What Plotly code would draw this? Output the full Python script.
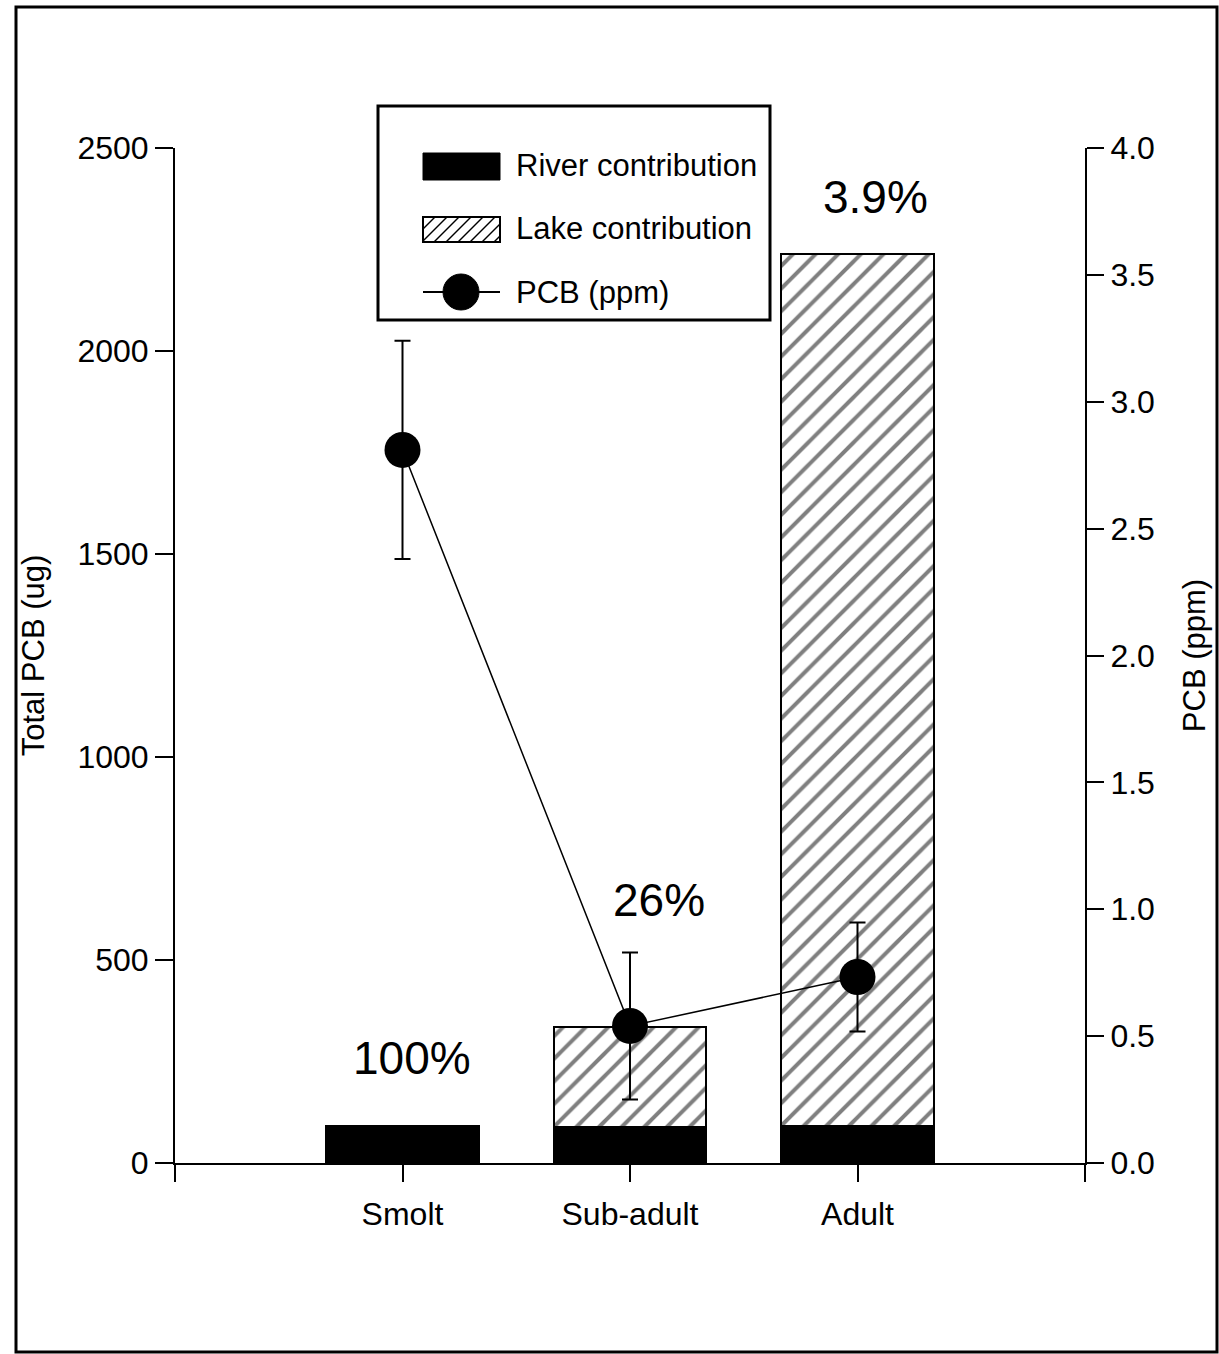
import plotly.graph_objects as go

categories = ["Smolt", "Sub-adult", "Adult"]
river_ug = [90, 89, 90]
lake_ug = [0, 246, 2149]
pcb_ppm = [2.81, 0.54, 0.733]
pcb_err = [0.43, 0.29, 0.215]
pct_labels = ["100%", "26%", "3.9%"]
pct_label_y = [259, 648, 2379]
pct_label_dx = [0.04, 0.127, 0.077]
legend_names = ["River contribution", "Lake contribution", "PCB (ppm)"]

xpos = list(range(1, len(categories) + 1))

W, H = 1219, 1354
L, R, T, B = 175, 134, 148, 191
pw, ph = W - L - R, H - T - B
FONT = "Liberation Sans, Arial"


def px(x):
    return (x - L) / pw


def py(y):
    return (H - B - y) / ph


fig = go.Figure()
fig.add_trace(go.Bar(
    x=xpos, y=river_ug, name=legend_names[0], width=0.67,
    marker=dict(color="black", line=dict(color="black", width=2)),
))
fig.add_trace(go.Bar(
    x=xpos, y=lake_ug, name=legend_names[1], width=0.67,
    marker=dict(color="white", line=dict(color="black", width=2),
                pattern=dict(shape="/", fgcolor="black", bgcolor="white",
                             size=16, solidity=0.25)),
))
fig.add_trace(go.Scatter(
    x=xpos, y=pcb_ppm, name=legend_names[2], yaxis="y2", mode="lines+markers",
    line=dict(color="black", width=1.5),
    marker=dict(color="black", size=36, symbol="circle"),
    error_y=dict(type="data", array=pcb_err, color="black", thickness=2, width=8),
))

for i, lab in enumerate(pct_labels):
    fig.add_annotation(x=xpos[i] + pct_label_dx[i], y=pct_label_y[i], text=lab,
                       showarrow=False, font=dict(size=46, color="black", family=FONT),
                       xanchor="center", yanchor="middle")

shapes = []
# outer frame
shapes.append(dict(type="rect", xref="paper", yref="paper",
                   x0=px(16), x1=px(1217), y0=py(1352), y1=py(7),
                   line=dict(color="black", width=3), layer="below"))

# ---- legend (drawn manually to get large keys) ----
bx0, bx1, by0, by1 = 378, 770, 106, 320
shapes.append(dict(type="rect", xref="paper", yref="paper",
                   x0=px(bx0), x1=px(bx1), y0=py(by1), y1=py(by0),
                   fillcolor="white", line=dict(color="black", width=3), layer="above"))
kx0, kx1 = 423, 500
# river key
shapes.append(dict(type="rect", xref="paper", yref="paper",
                   x0=px(kx0), x1=px(kx1), y0=py(180), y1=py(153),
                   fillcolor="black", line=dict(color="black", width=1), layer="above"))
# lake key (hatched)
hy0, hy1 = 217, 242
shapes.append(dict(type="rect", xref="paper", yref="paper",
                   x0=px(kx0), x1=px(kx1), y0=py(hy1), y1=py(hy0),
                   fillcolor="white", line=dict(color="black", width=2), layer="above"))
hh = hy1 - hy0
a = kx0 - hh
while a < kx1:
    t0 = max(0, kx0 - a)
    t1 = min(hh, kx1 - a)
    if t1 > t0:
        shapes.append(dict(type="line", xref="paper", yref="paper",
                           x0=px(a + t0), y0=py(hy1 - t0), x1=px(a + t1), y1=py(hy1 - t1),
                           line=dict(color="black", width=1.5), layer="above"))
    a += 12
# pcb key
shapes.append(dict(type="line", xref="paper", yref="paper",
                   x0=px(kx0), x1=px(kx1), y0=py(292), y1=py(292),
                   line=dict(color="black", width=2), layer="above"))
shapes.append(dict(type="circle", xref="paper", yref="paper",
                   x0=px(443), x1=px(479), y0=py(310), y1=py(274),
                   fillcolor="black", line=dict(color="black", width=1), layer="above"))

for name, yc in zip(legend_names, [166, 229, 292]):
    fig.add_annotation(xref="paper", yref="paper", x=px(514), y=py(yc), text=name,
                       showarrow=False, xanchor="left", yanchor="middle",
                       font=dict(size=31, color="black", family=FONT))

fig.update_layout(
    width=W, height=H,
    margin=dict(l=L, r=R, t=T, b=B, autoexpand=False),
    paper_bgcolor="white", plot_bgcolor="white",
    barmode="stack",
    font=dict(family=FONT, color="black", size=32),
    showlegend=False,
    shapes=shapes,
    xaxis=dict(range=[0, 4], tickmode="array", tickvals=[0, 1, 2, 3, 4],
               ticktext=[""] + categories + [""], showgrid=False, zeroline=False,
               showline=True, linecolor="black", linewidth=2,
               ticks="outside", ticklen=17, tickwidth=2, tickcolor="black",
               ticklabelstandoff=5, tickfont=dict(size=32)),
    yaxis=dict(range=[0, 2500], dtick=500, showgrid=False, zeroline=False,
               showline=True, linecolor="black", linewidth=2,
               ticks="outside", ticklen=18, tickwidth=2, tickcolor="black",
               tickfont=dict(size=32),
               title=dict(text="Total PCB (ug)", font=dict(size=31), standoff=24)),
    yaxis2=dict(range=[0, 4], dtick=0.5, tickformat=".1f", overlaying="y",
                side="right", showgrid=False, zeroline=False,
                showline=True, linecolor="black", linewidth=2,
                ticks="outside", ticklen=17, tickwidth=2, tickcolor="black",
                tickfont=dict(size=32),
                title=dict(text="PCB (ppm)", font=dict(size=31), standoff=29)),
)

fig.write_html("out.html")
